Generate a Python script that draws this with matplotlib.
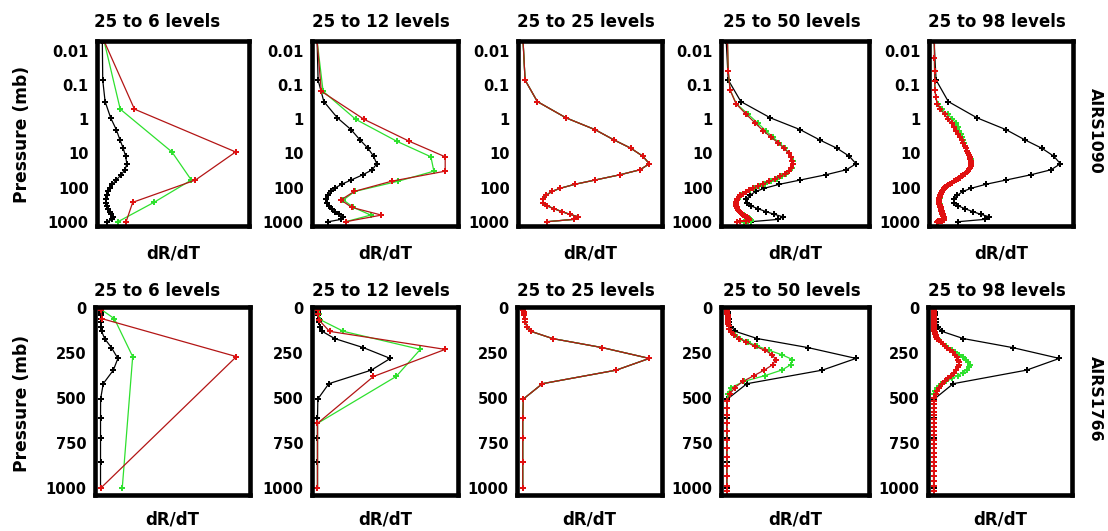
import matplotlib
matplotlib.use('Agg')
import matplotlib.pyplot as plt


# pressure levels (mb) of each vertical grid
P6 = [0.005, 0.5, 9, 60, 270, 1000]
P12 = [0.005, 0.15, 1, 4.4, 12.5, 33, 65, 130, 230, 380, 640, 1000]
P25 = [0.005, 0.07, 0.3, 0.9, 2, 4, 7, 12, 20, 30, 42, 60, 80, 105, 130,
       170, 220, 280, 345, 420, 505, 610, 720, 855, 1000]
P50 = [0.005, 0.0384, 0.137, 0.345, 0.714, 1.30, 2.15, 3.34, 4.92, 6.96,
       9.51, 12.6, 16.4, 20.9, 26.2, 32.3, 39.3, 47.2, 56.1, 66.1,
       77.2, 89.5, 103, 118, 134, 151, 170, 190, 212, 235,
       260, 286, 314, 344, 375, 407, 442, 478, 516, 555,
       596, 639, 684, 730, 778, 827, 879, 932, 986, 1014]
P98 = [0.005, 0.0161, 0.0384, 0.0769, 0.137, 0.224, 0.345, 0.506, 0.714, 0.975,
       1.30, 1.69, 2.15, 2.70, 3.34, 4.08, 4.92, 5.88, 6.96, 8.17,
       9.51, 11.0, 12.6, 14.5, 16.4, 18.6, 20.9, 23.5, 26.2, 29.1,
       32.3, 35.7, 39.3, 43.1, 47.2, 51.5, 56.1, 61.0, 66.1, 71.5,
       77.2, 83.2, 89.5, 96.1, 103, 110, 118, 126, 134, 142,
       151, 160, 170, 180, 190, 201, 212, 223, 235, 247,
       260, 273, 286, 300, 314, 329, 344, 359, 375, 391,
       407, 424, 442, 460, 478, 497, 516, 535, 555, 576,
       596, 618, 639, 661, 684, 707, 730, 754, 778, 802,
       827, 853, 879, 905, 932, 959, 986, 1014]

# ---- AIRS1090 (top row) dR/dT ----
BLACK25_1090 = [0.0, 0.016, 0.113, 0.34, 0.57, 0.72, 0.853, 0.948, 1.0, 0.926,
                0.768, 0.57, 0.41, 0.293, 0.227, 0.182, 0.156, 0.158, 0.192, 0.248,
                0.306, 0.372, 0.438, 0.40, 0.19]
RED6_1090 = [0.07, 1.31, 5.44, 3.8, 1.24, 0.97]
GREEN6_1090 = [0.07, 0.73, 2.84, 3.63, 2.11, 0.64]
RED12_1090 = [0.0, 0.07, 0.79, 1.55, 2.15, 2.15, 1.25, 0.62, 0.40, 0.58, 1.08, 0.48]
GREEN12_1090 = [0.0, 0.1, 0.65, 1.34, 1.91, 1.96, 1.36, 0.63, 0.44, 0.61, 0.90, 0.48]
RED50_1090 = [0.01, 0.016, 0.03, 0.075, 0.155, 0.225, 0.285, 0.347, 0.40, 0.445,
              0.48, 0.497, 0.51, 0.514, 0.502, 0.48, 0.45, 0.415, 0.375, 0.33,
              0.285, 0.245, 0.21, 0.175, 0.15, 0.127, 0.11, 0.095, 0.087, 0.082,
              0.078, 0.076, 0.075, 0.077, 0.08, 0.085, 0.09, 0.096, 0.103, 0.112,
              0.122, 0.133, 0.146, 0.158, 0.168, 0.176, 0.175, 0.155, 0.11, 0.08]
GREEN50_1090 = [0.01, 0.016, 0.03, 0.078, 0.17, 0.245, 0.305, 0.36, 0.41, 0.45,
                0.483, 0.5, 0.512, 0.516, 0.505, 0.485, 0.46, 0.428, 0.39, 0.345,
                0.298, 0.255, 0.218, 0.18, 0.153, 0.13, 0.112, 0.097, 0.088, 0.083,
                0.079, 0.077, 0.076, 0.078, 0.081, 0.086, 0.091, 0.097, 0.104, 0.113,
                0.123, 0.134, 0.147, 0.16, 0.172, 0.183, 0.19, 0.19, 0.17, 0.14]
RED98_1090 = [0.003, 0.003, 0.004, 0.005, 0.008, 0.013, 0.025, 0.05, 0.085, 0.11,
              0.14, 0.158, 0.175, 0.192, 0.206, 0.221, 0.232, 0.243, 0.253, 0.263,
              0.27, 0.277, 0.283, 0.288, 0.291, 0.292, 0.292, 0.29, 0.285, 0.278,
              0.269, 0.258, 0.246, 0.232, 0.217, 0.202, 0.186, 0.171, 0.155, 0.14,
              0.126, 0.112, 0.1, 0.09, 0.082, 0.075, 0.069, 0.064, 0.06, 0.056,
              0.053, 0.05, 0.048, 0.046, 0.044, 0.043, 0.042, 0.041, 0.04, 0.04,
              0.04, 0.041, 0.042, 0.043, 0.044, 0.046, 0.048, 0.05, 0.052, 0.053,
              0.054, 0.055, 0.056, 0.057, 0.058, 0.06, 0.061, 0.062, 0.064, 0.065,
              0.067, 0.068, 0.07, 0.071, 0.073, 0.075, 0.076, 0.078, 0.079, 0.08,
              0.081, 0.08, 0.077, 0.07, 0.06, 0.048, 0.035, 0.025]
GREEN98_1090 = [0.003, 0.003, 0.004, 0.005, 0.008, 0.014, 0.028, 0.06, 0.11, 0.145,
                0.172, 0.188, 0.2, 0.21, 0.218, 0.228, 0.237, 0.246, 0.255, 0.264,
                0.271, 0.278, 0.284, 0.289, 0.292, 0.293, 0.293, 0.291, 0.286, 0.279,
                0.27, 0.259, 0.247, 0.233, 0.218, 0.203, 0.187, 0.172, 0.156, 0.141,
                0.127, 0.113, 0.101, 0.091, 0.083, 0.076, 0.07, 0.065, 0.061, 0.057,
                0.054, 0.051, 0.049, 0.047, 0.045, 0.044, 0.043, 0.042, 0.041, 0.041,
                0.041, 0.042, 0.043, 0.044, 0.045, 0.047, 0.049, 0.051, 0.053, 0.054,
                0.055, 0.056, 0.057, 0.058, 0.059, 0.061, 0.062, 0.063, 0.065, 0.066,
                0.068, 0.069, 0.071, 0.072, 0.074, 0.076, 0.077, 0.079, 0.08, 0.081,
                0.082, 0.082, 0.08, 0.075, 0.066, 0.055, 0.045, 0.035]

# ---- AIRS1766 (bottom row) dR/dT ----
BLACK25_1766 = [0.005, 0.005, 0.005, 0.005, 0.006, 0.007, 0.008, 0.01, 0.012, 0.014,
                0.016, 0.02, 0.025, 0.04, 0.07, 0.24, 0.63, 1.0, 0.74, 0.16,
                0.01, 0.005, 0.005, 0.005, 0.005]
RED6_1766 = [0.005, 0.005, 0.01, 0.1, 7.8, 0.005]
GREEN6_1766 = [0.005, 0.01, 0.05, 0.8, 1.85, 1.25]
RED12_1766 = [0.01, 0.01, 0.01, 0.01, 0.012, 0.015, 0.02, 0.17, 1.75, 0.77, 0.005, 0.005]
GREEN12_1766 = [0.01, 0.01, 0.01, 0.012, 0.015, 0.02, 0.04, 0.36, 1.41, 1.08, 0.005, 0.005]
RED50_1766 = [0.005, 0.005, 0.005, 0.005, 0.005, 0.005, 0.006, 0.006, 0.007, 0.007,
              0.008, 0.008, 0.009, 0.009, 0.01, 0.01, 0.011, 0.011, 0.012, 0.013,
              0.014, 0.016, 0.018, 0.022, 0.035, 0.06, 0.1, 0.155, 0.22, 0.3,
              0.355, 0.38, 0.36, 0.295, 0.215, 0.13, 0.065, 0.028, 0.01, 0.005,
              0.005, 0.005, 0.005, 0.005, 0.005, 0.005, 0.005, 0.005, 0.005, 0.005]
GREEN50_1766 = [0.005, 0.005, 0.005, 0.005, 0.005, 0.005, 0.006, 0.006, 0.007, 0.007,
                0.008, 0.008, 0.009, 0.009, 0.01, 0.01, 0.011, 0.011, 0.012, 0.013,
                0.014, 0.016, 0.018, 0.024, 0.038, 0.065, 0.11, 0.17, 0.24, 0.33,
                0.43, 0.51, 0.5, 0.43, 0.3, 0.14, 0.035, 0.012, 0.005, 0.005,
                0.005, 0.005, 0.005, 0.005, 0.005, 0.005, 0.005, 0.005, 0.005, 0.005]
RED98_1766 = [0.004, 0.004, 0.004, 0.004, 0.004, 0.004, 0.004, 0.004, 0.004, 0.004,
              0.004, 0.004, 0.004, 0.004, 0.004, 0.004, 0.004, 0.004, 0.004, 0.004,
              0.005, 0.005, 0.005, 0.005, 0.005, 0.005, 0.005, 0.005, 0.005, 0.005,
              0.005, 0.005, 0.005, 0.005, 0.005, 0.006, 0.006, 0.006, 0.006, 0.006,
              0.006, 0.007, 0.007, 0.008, 0.008, 0.009, 0.01, 0.011, 0.013, 0.016,
              0.02, 0.026, 0.035, 0.046, 0.06, 0.076, 0.094, 0.113, 0.134, 0.155,
              0.174, 0.19, 0.2, 0.205, 0.203, 0.195, 0.183, 0.165, 0.143, 0.12,
              0.095, 0.07, 0.05, 0.033, 0.02, 0.011, 0.006, 0.004, 0.004, 0.004,
              0.004, 0.004, 0.004, 0.004, 0.004, 0.004, 0.004, 0.004, 0.004, 0.004,
              0.004, 0.004, 0.004, 0.004, 0.004, 0.004, 0.004, 0.004]
GREEN98_1766 = [0.004, 0.004, 0.004, 0.004, 0.004, 0.004, 0.004, 0.004, 0.004, 0.004,
                0.004, 0.004, 0.004, 0.004, 0.004, 0.004, 0.004, 0.004, 0.004, 0.004,
                0.005, 0.005, 0.005, 0.005, 0.005, 0.005, 0.005, 0.005, 0.005, 0.005,
                0.005, 0.005, 0.005, 0.005, 0.005, 0.006, 0.006, 0.006, 0.006, 0.006,
                0.006, 0.007, 0.007, 0.008, 0.008, 0.009, 0.01, 0.011, 0.013, 0.016,
                0.02, 0.027, 0.036, 0.048, 0.063, 0.08, 0.1, 0.122, 0.147, 0.175,
                0.205, 0.235, 0.262, 0.28, 0.29, 0.285, 0.265, 0.235, 0.195, 0.15,
                0.105, 0.065, 0.035, 0.018, 0.01, 0.006, 0.004, 0.004, 0.004, 0.004,
                0.004, 0.004, 0.004, 0.004, 0.004, 0.004, 0.004, 0.004, 0.004, 0.004,
                0.004, 0.004, 0.004, 0.004, 0.004, 0.004, 0.004, 0.004]

TITLES = ['25 to 6 levels', '25 to 12 levels', '25 to 25 levels',
          '25 to 50 levels', '25 to 98 levels']
LOG_TICKS = [0.01, 0.1, 1, 10, 100, 1000]
LOG_LABELS = ['0.01', '0.1', '1', '10', '100', '1000']
LIN_TICKS = [0, 250, 500, 750, 1000]
LIN_LABELS = ['0', '250', '500', '750', '1000']
CHANNELS = ['AIRS1090', 'AIRS1766']

ROWS = [
    [(P6, RED6_1090, GREEN6_1090), (P12, RED12_1090, GREEN12_1090),
     (P25, BLACK25_1090, BLACK25_1090), (P50, RED50_1090, GREEN50_1090),
     (P98, RED98_1090, GREEN98_1090)],
    [(P6, RED6_1766, GREEN6_1766), (P12, RED12_1766, GREEN12_1766),
     (P25, BLACK25_1766, BLACK25_1766), (P50, RED50_1766, GREEN50_1766),
     (P98, RED98_1766, GREEN98_1766)],
]
BLACKS = [BLACK25_1090, BLACK25_1766]

W, H = 1108, 531
# axes frames in pixels (left, right) per column, (top, bottom) per row
COLS_PX = [[(97, 249), (312, 458), (518, 662), (721, 869), (929, 1073)],
           [(95, 250), (312, 458), (517, 662), (721, 869), (928, 1072)]]
ROWS_PX = [(40.8, 225.5), (307, 495)]
TITLE_X = [157.5, 380.8, 585.5, 791.7, 996.7]
TITLE_Y = [26.7, 296.5]
XLAB_Y = [259, 525]
PLAB_Y = [134, 403]
CHAN_Y = [131, 399]

RED_LINE = '#b31515'
RED_MARK = '#e01010'
GREEN = '#2ee02e'


def fx(px):
    return px / W


def fy(py):
    return 1 - py / H


def draw_panel(ax, levels, red, green, black, log_axis):
    style = dict(lw=0.9, marker='P', ms=4, mew=0)
    ax.plot(black, P25, color='black', **style)
    ax.plot(green, levels, color=GREEN, **style)
    ax.plot(red, levels, color=RED_LINE, mfc=RED_MARK, **style)
    top = max(max(red), max(green), max(black))
    ax.set_xlim(-0.04 * top, 1.1 * top)
    if log_axis:
        ax.set_yscale('log')
        ax.set_ylim(1292, 0.00496)
        ax.set_yticks(LOG_TICKS)
        ax.set_yticklabels(LOG_LABELS)
        ax.minorticks_off()
    else:
        ax.set_ylim(1037, -5)
        ax.set_yticks(LIN_TICKS)
        ax.set_yticklabels(LIN_LABELS)
    ax.set_xticks([])
    ax.tick_params(axis='y', which='both', length=0, pad=6, labelsize=10.5)
    for lbl in ax.get_yticklabels():
        lbl.set_fontweight('bold')
    for s in ax.spines.values():
        s.set_linewidth(3.3)


fig = plt.figure(figsize=(W / 100, H / 100), dpi=100)

for r in range(2):
    top_px, bot_px = ROWS_PX[r]
    for c in range(5):
        l_px, r_px = COLS_PX[r][c]
        ax = fig.add_axes([fx(l_px), fy(bot_px), (r_px - l_px) / W, (bot_px - top_px) / H])
        levels, red, green = ROWS[r][c]
        draw_panel(ax, levels, red, green, BLACKS[r], r == 0)
        fig.text(fx(TITLE_X[c]), fy(TITLE_Y[r]), TITLES[c], ha='center', va='baseline',
                 fontsize=12, fontweight='bold')
        fig.text(fx((l_px + r_px) / 2), fy(XLAB_Y[r]), 'dR/dT', ha='center', va='baseline',
                 fontsize=12, fontweight='bold')
    fig.text(fx(22.5), fy(PLAB_Y[r]), 'Pressure (mb)', rotation=90, ha='center', va='center',
             fontsize=12.3, fontweight='bold')
    fig.text(fx(1095.5), fy(CHAN_Y[r]), CHANNELS[r], rotation=270, ha='center', va='center',
             fontsize=11.3, fontweight='bold')

fig.savefig('out.png', dpi=100, facecolor='white')
